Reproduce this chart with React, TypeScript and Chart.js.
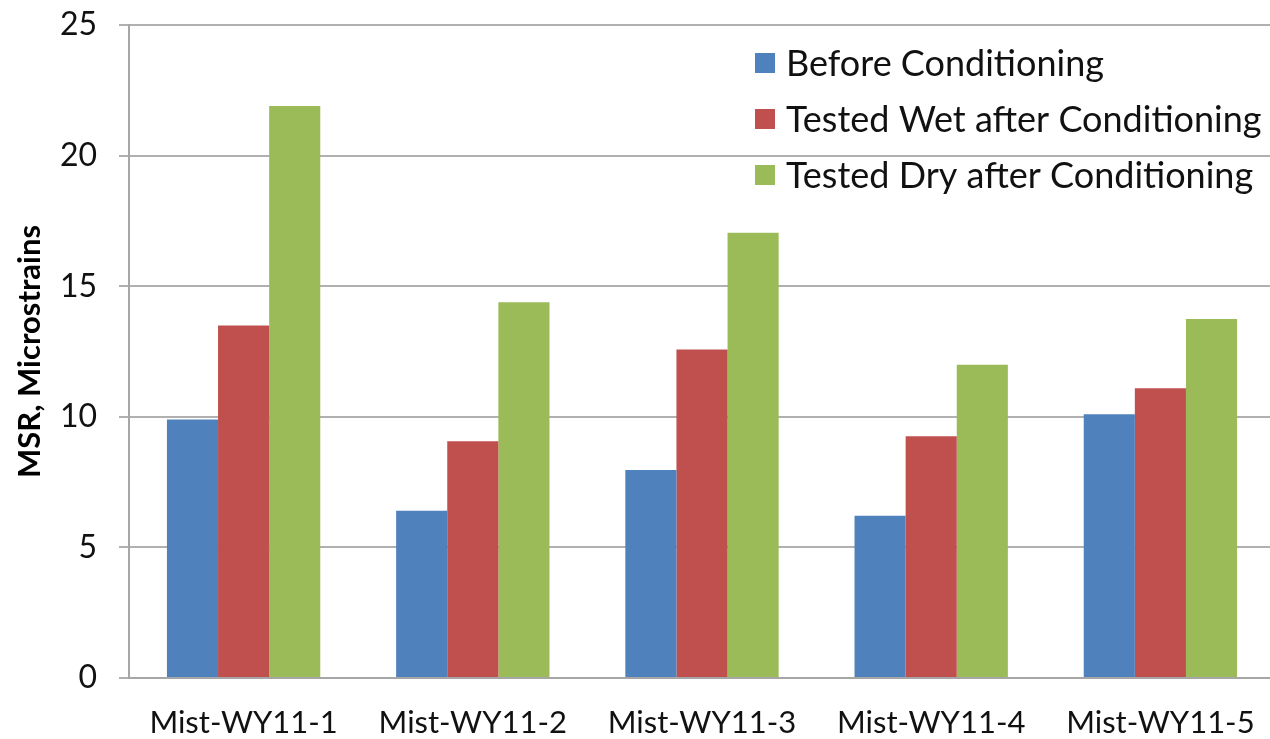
import React, { useEffect, useRef } from "react";
import { Chart, registerables } from "chart.js";

Chart.register(...registerables);

const categories = ["Mist-WY11-1", "Mist-WY11-2", "Mist-WY11-3", "Mist-WY11-4", "Mist-WY11-5"];
const seriesLabels = ["Before Conditioning", "Tested Wet after Conditioning", "Tested Dry after Conditioning"];
const beforeConditioning = [9.9, 6.4, 7.96, 6.21, 10.1];
const testedWet = [13.5, 9.06, 12.58, 9.26, 11.09];
const testedDry = [21.9, 14.39, 17.05, 11.99, 13.74];
const seriesColors = ["#4F81BD", "#C0504D", "#9BBB59"];
const yMin = 0;
const yMax = 25;
const yStep = 5;
const yTitle = "MSR, Microstrains";

const FONT = "Lato, 'Open Sans', sans-serif";

const insideLegend = {
  id: "insideLegend",
  afterDraw(chart: any) {
    const ctx = chart.ctx;
    ctx.save();
    ctx.font = `36px ${FONT}`;
    ctx.textBaseline = "middle";
    ctx.textAlign = "left";
    chart.data.datasets.forEach((ds: any, i: number) => {
      const cy = 63 + i * 56;
      ctx.fillStyle = ds.backgroundColor;
      ctx.fillRect(755, cy - 10, 20, 20);
      ctx.fillStyle = "#111";
      ctx.fillText(ds.label, 786, cy + 1);
    });
    ctx.restore();
  },
};

export default function App() {
  const ref = useRef<HTMLCanvasElement | null>(null);

  useEffect(() => {
    document.body.style.margin = "0";
    const canvas = ref.current!;
    const data = [beforeConditioning, testedWet, testedDry];
    const chart = new Chart(canvas, {
      type: "bar",
      data: {
        labels: categories,
        datasets: seriesLabels.map((label, i) => ({
          label,
          data: data[i],
          backgroundColor: seriesColors[i],
          borderWidth: 0,
          categoryPercentage: 0.669,
          barPercentage: 1,
        })),
      },
      plugins: [insideLegend],
      options: {
        responsive: false,
        animation: false,
        devicePixelRatio: 1,
        layout: { padding: { top: 25, right: 0, left: 0, bottom: 0 } },
        plugins: {
          legend: { display: false },
          tooltip: { enabled: false },
        },
        scales: {
          x: {
            grid: { display: false, drawTicks: false },
            border: { display: true, color: "#a6a6a6", width: 2 },
            ticks: {
              color: "#111",
              font: { family: FONT, size: 31 },
              padding: 26,
              maxRotation: 0,
              autoSkip: false,
            },
            afterFit: (s: any) => {
              s.height = 61;
              s.paddingLeft = 0;
              s.paddingRight = 0;
            },
          },
          y: {
            min: yMin,
            max: yMax,
            ticks: {
              stepSize: yStep,
              color: "#111",
              font: { family: FONT, size: 32 },
              padding: 22,
            },
            grid: {
              color: "#b0b0b0",
              lineWidth: 2,
              tickLength: 10,
              drawTicks: true,
            },
            border: { display: true, color: "#a6a6a6", width: 2 },
            title: {
              display: true,
              text: yTitle,
              color: "#000",
              font: { family: FONT, size: 31, weight: "bold" },
              padding: { top: 11, bottom: 0 },
            },
            afterFit: (s: any) => {
              s.width = 129;
              s.paddingTop = 0;
              s.paddingBottom = 0;
            },
          },
        },
      },
    });
    return () => chart.destroy();
  }, []);

  return (
    <div style={{ position: "absolute", left: 0, top: 0, width: 1270, height: 739, overflow: "hidden", background: "#fff" }}>
      <canvas ref={ref} width={1275} height={739} style={{ display: "block" }} />
    </div>
  );
}
